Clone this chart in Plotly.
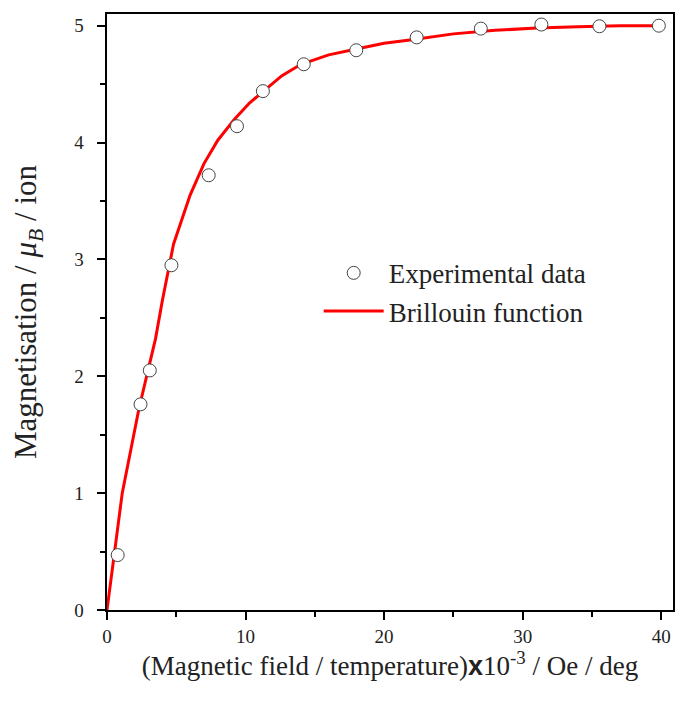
import plotly.graph_objects as go

# %% Data
exp_x = [0.77, 2.42, 3.09, 4.65, 7.34, 9.38, 11.25, 14.2, 17.99, 22.35, 26.98, 31.35, 35.54, 39.83]
exp_y = [0.47, 1.76, 2.05, 2.95, 3.72, 4.14, 4.44, 4.67, 4.79, 4.90, 4.975, 5.01, 4.995, 5.0]

fit_x = [0, 1.1, 2.3, 3.5, 4.0, 4.8, 6.0, 7.0, 8.0, 9.2, 10.3, 11.5, 12.6, 14.0,
         16.0, 18.0, 20.0, 22.0, 25.0, 28.0, 31.0, 34.0, 37.0, 40.0]
fit_y = [0, 1.00, 1.72, 2.32, 2.65, 3.13, 3.55, 3.82, 4.02, 4.20, 4.34, 4.46, 4.57, 4.67,
         4.75, 4.80, 4.85, 4.88, 4.93, 4.96, 4.98, 4.99, 5.0, 5.0]

serif = 'Liberation Serif'
txt_color = '#222222'

# %% Plot
fig = go.Figure()
fig.add_trace(
    go.Scatter(
        x=fit_x,
        y=fit_y,
        mode='lines',
        name='Brillouin function',
        line=dict(color='#ff0000', width=3),
    )
)
fig.add_trace(
    go.Scatter(
        x=exp_x,
        y=exp_y,
        mode='markers',
        name='Experimental data',
        marker=dict(size=13, color='white', line=dict(color='#444444', width=1)),
    )
)

axis_common = dict(
    showline=True,
    linecolor='black',
    linewidth=2,
    mirror=True,
    showgrid=False,
    zeroline=False,
    ticks='outside',
    ticklen=8,
    tickwidth=2,
    tickcolor='black',
    tickfont=dict(family=serif, size=19, color=txt_color),
)

fig.update_layout(
    width=677,
    height=704,
    margin=dict(l=107, r=2, t=14, b=94),
    plot_bgcolor='white',
    paper_bgcolor='white',
    xaxis=dict(
        range=[0, 40.85],
        dtick=10,
        minor=dict(dtick=5, ticks='outside', ticklen=5, tickwidth=2, tickcolor='black'),
        title=dict(
            text="(Magnetic field / temperature)<span style='font-family:Arial'><b>x</b></span>10<sup>-3</sup> / Oe / deg",
            font=dict(family=serif, size=27, color=txt_color),
            standoff=10,
        ),
        **axis_common
    ),
    yaxis=dict(
        range=[0, 5.1],
        dtick=1,
        ticksuffix='\u2002',
        minor=dict(dtick=0.5, ticks='outside', ticklen=5, tickwidth=2, tickcolor='black'),
        title=dict(
            text='Magnetisation / <i>μ</i><sub><i>B</i></sub> / ion\u2002\u2002',
            font=dict(family=serif, size=31, color=txt_color),
            standoff=28,
        ),
        **axis_common
    ),
    legend=dict(
        x=0.374,
        y=0.606,
        xanchor='left',
        yanchor='top',
        traceorder='reversed',
        bgcolor='rgba(0,0,0,0)',
        font=dict(family=serif, size=27, color=txt_color),
        itemwidth=60,
        tracegroupgap=0,
    ),
)

fig.write_html("out.html", config={'displayModeBar': False},
               post_script="document.body.style.margin = '0';")
